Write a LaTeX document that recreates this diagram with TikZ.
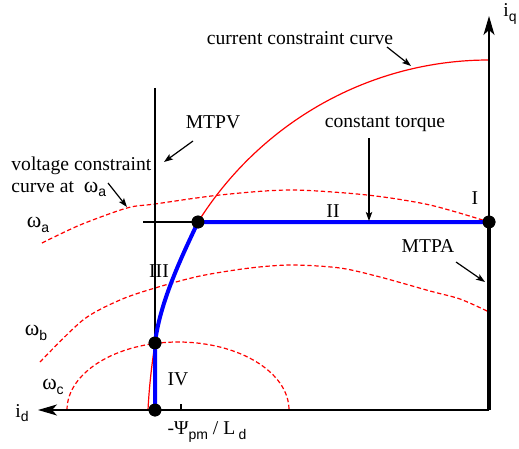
\documentclass[tikz,border=0pt]{standalone}
\usepackage{fontspec}
\setmainfont{Liberation Serif}
\newfontfamily\subfont{Liberation Sans}
\usetikzlibrary{arrows.meta}
\newcommand{\msub}[1]{\raisebox{-0.5ex}{\subfont\fontsize{7}{8}\selectfont #1}}
\newcommand{\omg}{{\fontsize{11}{12}\selectfont ω}}
\begin{document}
\begin{tikzpicture}[x=0.5pt,y=-0.5pt,
  font=\fontsize{9.8}{11.5}\selectfont,
  axis/.style={line width=0.65pt,-{Stealth[length=9.5pt,width=5.5pt,inset=2.5pt]}},
  thinline/.style={line width=0.65pt},
  ptr/.style={line width=0.6pt,-{Stealth[length=4.5pt,width=3.2pt,inset=1pt]}},
  curr/.style={red,line width=0.6pt},
  volt/.style={red,line width=0.6pt,dash pattern=on 2.2pt off 1.3pt},
  traj/.style={blue,line width=2pt,line join=round},
  mtpa/.style={black,line width=2pt},
  dot/.style={circle,fill=black,inner sep=0pt,minimum size=6.4pt},
  lbl/.style={inner sep=0pt}]
\useasboundingbox (0,0) rectangle (519,449);

% coordinates
\coordinate (O) at (489,410);
\coordinate (idend) at (38,410);
\coordinate (iqend) at (489,16);
\coordinate (vtop) at (155,88);
\coordinate (vbot) at (155,410);
\coordinate (hleft) at (143,222);
\coordinate (ctop) at (489,60);

% voltage constraint curves
\draw[volt] plot[smooth] coordinates {(42,243) (80,225) (127,208) (155,204) (220,195) (290,190) (367,195) (430,205) (489,222)};
\draw[volt] plot[smooth] coordinates {(40,362) (83,320) (120,300) (155,288) (200,276) (250,268) (292,265) (340,268) (380,277) (430,291) (460,299) (487,311)};
\draw[volt] (67,410) arc[start angle=180,end angle=0,x radius=111,y radius=-68];

% current constraint curve
\draw[curr] (ctop) arc[start angle=90,end angle=147.5,x radius=345,y radius=-350]
  .. controls (185,250) and (160,300) .. (155,343)
  .. controls (151,370) and (149,390) .. (148,410);

% axes and lines
\draw[thinline] (vtop) -- (vbot);
\draw[axis] (O) -- (idend);
\draw[axis] (O) -- (iqend);
\draw[thinline] (181,404) -- (181,410);

% dots
\node[dot] (A) at (198,222) {};
\node[dot] (B) at (489,222) {};
\node[dot] (C) at (155,343) {};
\node[dot] (D) at (155,410) {};

\draw[thinline] (hleft) -- (A.center);
\draw[mtpa] (O) -- (B.center);
\draw[traj] (B.center) -- (A.center) .. controls (185,250) and (160,300) .. (C.center) -- (D.center);
\node[dot] at (A) {};
\node[dot] at (B) {};
\node[dot] at (C) {};
\node[dot] at (D) {};

% labels
\node[lbl] (cc) at (300,38) {current constraint curve};
\coordinate (cc1) at (387,47); \coordinate (cc2) at (411,66);
\draw[ptr] (cc1) -- (cc2);

\node[lbl] (mtpv) at (213,122) {MTPV};
\coordinate (mv1) at (193,141); \coordinate (mv2) at (164,162);
\draw[ptr] (mv1) -- (mv2);

\node[lbl] (ct) at (385,124) {constant torque};
\coordinate (ct1) at (369,138); \coordinate (ct2) at (369,221);
\draw[ptr] (ct1) -- (ct2);

\node[lbl,anchor=west] (vc1) at (11,166) {voltage constraint};
\node[lbl,anchor=west] (vc2) at (11,189) {curve at\ \ \omg\msub{a}};
\coordinate (va1) at (108,183); \coordinate (va2) at (127,207);
\draw[ptr] (va1) -- (va2);

\node[lbl] (wa) at (38,225) {\omg\msub{a}};
\node[lbl] (wb) at (36,333) {\omg\msub{b}};
\node[lbl] (wc) at (53,387) {\omg\msub{c}};

\node[lbl] (id) at (22,413) {i\msub{d}};
\node[lbl] (iq) at (510,14) {i\msub{q}};
\node[lbl] (psi) at (207,432) {-Ψ\msub{pm} / L\,\msub{d}};

\node[lbl] (r1) at (475,198) {I};
\node[lbl] (r2) at (333,211) {II};
\node[lbl] (r3) at (159,271) {III};
\node[lbl] (r4) at (178,379) {IV};

\node[lbl] (mtpalbl) at (428,246) {MTPA};
\coordinate (ma1) at (456,262); \coordinate (ma2) at (485,282);
\draw[ptr] (ma1) -- (ma2);
\end{tikzpicture}
\end{document}
